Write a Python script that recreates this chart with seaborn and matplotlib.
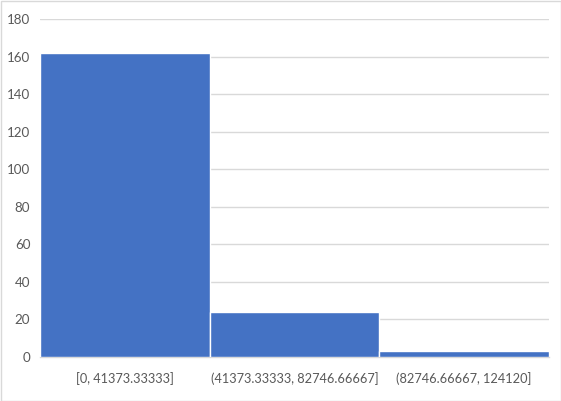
import matplotlib
matplotlib.use("Agg")
import matplotlib.pyplot as plt
import seaborn as sns
import pandas as pd
from matplotlib.patches import Rectangle

categories = ["[0, 41373.33333]", "(41373.33333, 82746.66667]", "(82746.66667, 124120]"]
counts = [162, 24, 3]
yticks = [0, 20, 40, 60, 80, 100, 120, 140, 160, 180]

sns.set_theme(style="white")
plt.rcParams["font.family"] = ["Lato", "DejaVu Sans"]

df = pd.DataFrame({"bin": categories, "count": counts})

fig = plt.figure(figsize=(5.61, 4.01), dpi=100)
ax = fig.add_axes([40/561, 44/401, 509/561, 338/401])

sns.barplot(data=df, x="bin", y="count", color="#4472C4", saturation=1,
            width=1.0, edgecolor="white", linewidth=1.0, ax=ax, zorder=3)

ax.set_xlim(-0.5, len(categories) - 0.5)
ax.set_ylim(0, 180)
ax.set_yticks(yticks)
ax.yaxis.grid(True, color="#d9d9d9", linewidth=1.0, zorder=0)
ax.set_axisbelow(True)
for s in ["left", "right", "top"]:
    ax.spines[s].set_visible(False)
ax.spines["bottom"].set_color("#d9d9d9")
ax.spines["bottom"].set_linewidth(1.0)
ax.tick_params(axis="both", length=0, labelcolor="#595959")
ax.tick_params(axis="x", pad=11, labelsize=9.2)
ax.tick_params(axis="y", pad=7, labelsize=9.6)
ax.set_xlabel("")
ax.set_ylabel("")

fig.patches.append(Rectangle((0.5/561, 0.5/401), 1 - 1/561, 1 - 1/401,
                             transform=fig.transFigure, fill=False,
                             edgecolor="#d9d9d9", linewidth=1.0))

fig.savefig("out.png", dpi=100)
